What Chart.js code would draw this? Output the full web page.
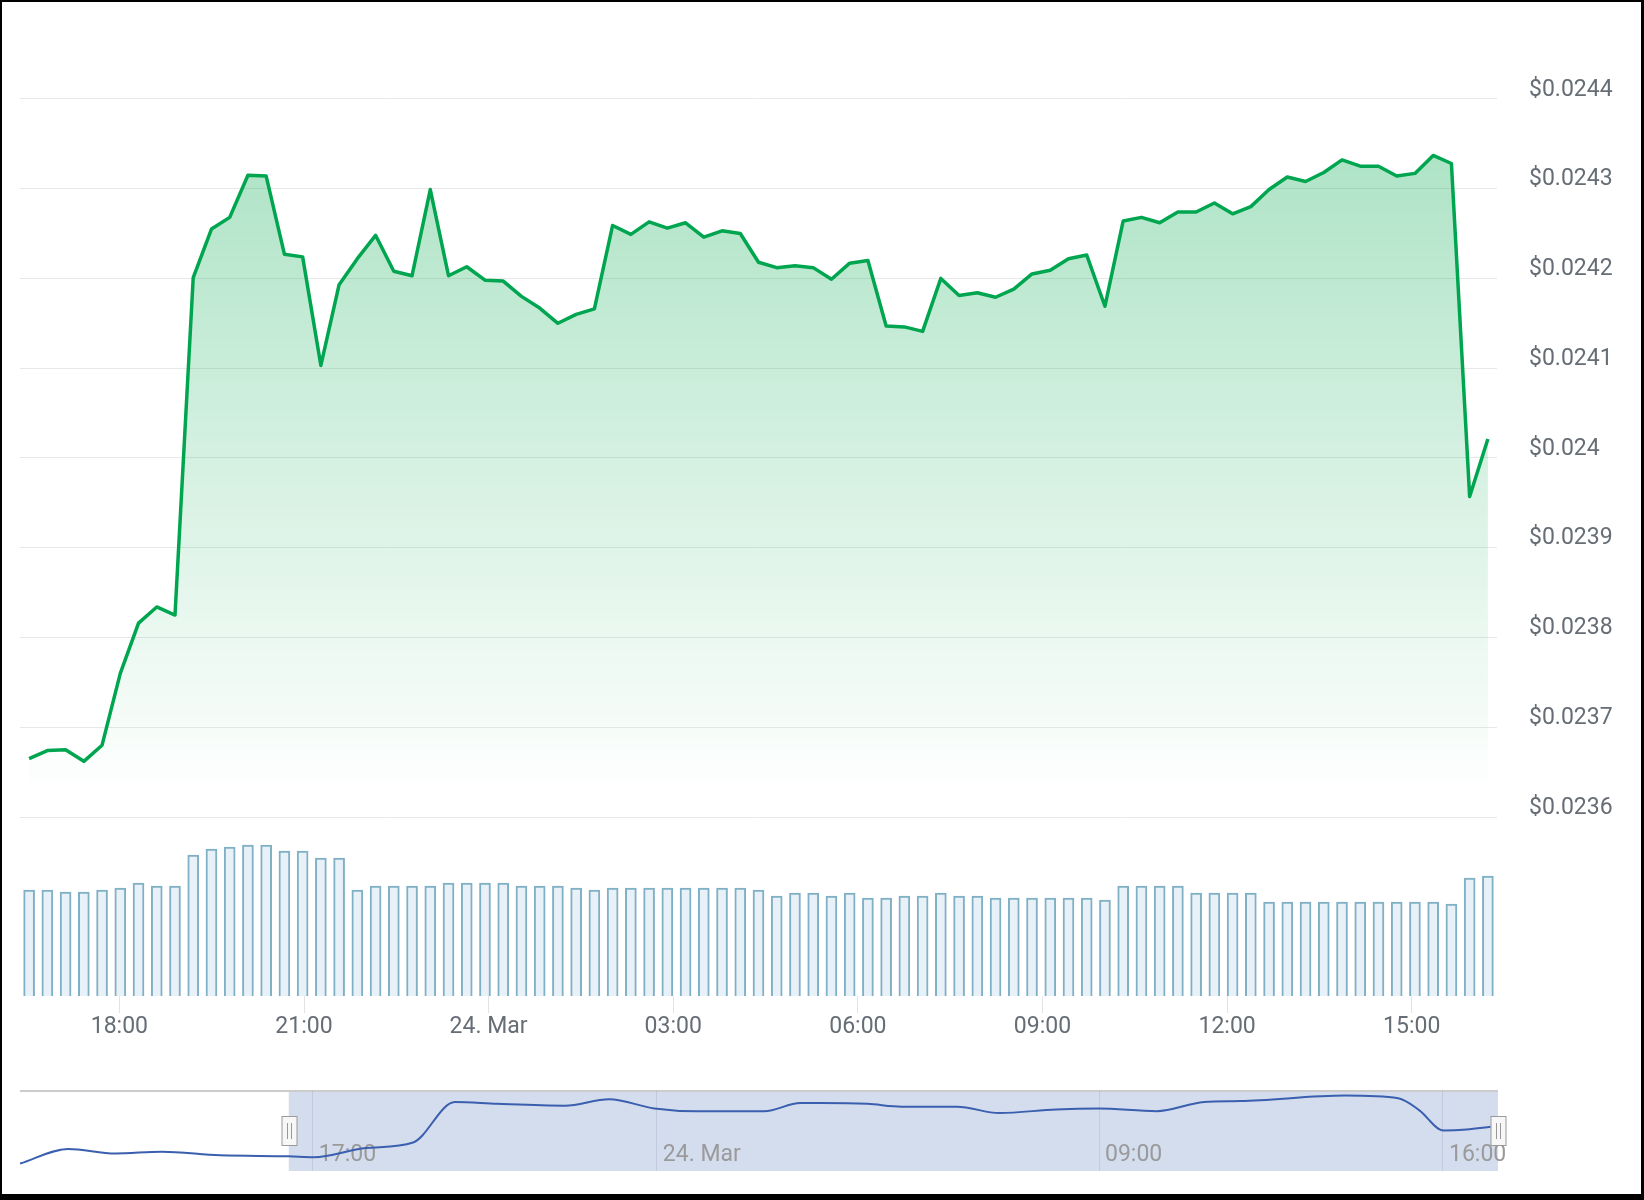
<!DOCTYPE html>
<html>
<head>
<meta charset="utf-8">
<script src="https://cdn.jsdelivr.net/npm/chart.js@4.4.1/dist/chart.umd.min.js"></script>
<style>
  body { margin: 0; background: #fff; }
  #page { position: relative; width: 1644px; height: 1200px; overflow: hidden; background: #fff; }
  #main { position: absolute; left: 0; top: 0; }
  #nav { position: absolute; left: 0; top: 1080px; }
  #frame { position: absolute; left: 0; top: 0; width: 1644px; height: 1200px; box-sizing: border-box;
           border-style: solid; border-color: #000; border-width: 2px 3px 6px 2px; pointer-events: none; }
</style>
</head>
<body>
<div id="page">
  <canvas id="main" width="1644" height="1060"></canvas>
  <canvas id="nav" width="1644" height="112"></canvas>
  <div id="frame"></div>
</div>
<script>
// price every ~18 min, from 23 Mar 16:32
const prices = [
  0.023665, 0.023674, 0.023675, 0.023662, 0.023680, 0.023760, 0.023816, 0.023834, 0.023825, 0.024201,
  0.024255, 0.024268, 0.024315, 0.024314, 0.024227, 0.024224, 0.024103, 0.024193, 0.024222, 0.024248,
  0.024208, 0.024203, 0.024299, 0.024203, 0.024213, 0.024198, 0.024197, 0.024180, 0.024167, 0.024150,
  0.024160, 0.024166, 0.024259, 0.024249, 0.024263, 0.024256, 0.024262, 0.024246, 0.024253, 0.024250,
  0.024218, 0.024212, 0.024214, 0.024212, 0.024199, 0.024217, 0.024220, 0.024147, 0.024146, 0.024141,
  0.024200, 0.024181, 0.024184, 0.024179, 0.024188, 0.024205, 0.024209, 0.024222, 0.024226, 0.024169,
  0.024264, 0.024268, 0.024262, 0.024274, 0.024274, 0.024284, 0.024272, 0.024280, 0.024299, 0.024313,
  0.024308, 0.024318, 0.024332, 0.024325, 0.024325, 0.024314, 0.024317, 0.024337, 0.024328, 0.023957,
  0.024021
];
// volume (relative units)
const volumes = [
  106, 106, 104, 104, 106, 108, 113, 110, 110, 141,
  147, 149, 151, 151, 145, 145, 138, 138, 106, 110,
  110, 110, 110, 113, 113, 113, 113, 110, 110, 110,
  108, 106, 108, 108, 108, 108, 108, 108, 108, 108,
  106, 100, 103, 103, 100, 103, 98, 98, 100, 100,
  103, 100, 100, 98, 98, 98, 98, 98, 98, 96,
  110, 110, 110, 110, 103, 103, 103, 103, 94, 94,
  94, 94, 94, 94, 94, 94, 94, 94, 92, 118,
  120
];
const startMinute = 992;          // minutes from 23 Mar 00:00
const stepMinutes = 1440 / 81;
const priceTicks = [0.0236, 0.0237, 0.0238, 0.0239, 0.0240, 0.0241, 0.0242, 0.0243, 0.0244];
const timeTicks = [1080, 1260, 1440, 1620, 1800, 1980, 2160, 2340];
const timeTickLabels = ['18:00', '21:00', '24. Mar', '03:00', '06:00', '09:00', '12:00', '15:00'];

// navigator (hours from 23 Mar 00:00)
const navHours = [11.04, 12.02, 12.98, 13.93, 15.11, 16.51, 17.02, 18.08, 19.04, 19.89, 20.75, 22.13,
  23.03, 23.95, 24.80, 26.19, 26.92, 27.33, 28.29, 28.98, 30.11, 30.97, 32.13, 32.99, 34.17, 35.14,
  35.88, 38.01, 39.09, 39.52, 40.01, 40.48, 40.97];
const navPrices = [0.02358, 0.02374, 0.02369, 0.02371, 0.02367, 0.02366, 0.02365, 0.02375, 0.02381,
  0.02425, 0.02423, 0.02421, 0.02428, 0.02418, 0.02415, 0.02415, 0.02424, 0.02424, 0.02423, 0.02420,
  0.02420, 0.02413, 0.02417, 0.02418, 0.02415, 0.02425, 0.02426, 0.02432, 0.02429, 0.02416, 0.02394,
  0.02395, 0.02398];
const navTicks = [17, 24, 33, 40];
const navTickLabels = ['17:00', '24. Mar', '09:00', '16:00'];
const navRange = [16.51, 41.12];

Chart.defaults.font.family = 'Roboto, sans-serif';
Chart.defaults.font.size = 23;
Chart.defaults.animation = false;

const times = prices.map((p, i) => startMinute + i * stepMinutes);

function greenFill(context) {
  const chart = context.chart;
  if (!chart.chartArea) return 'rgba(0,168,75,0.15)';
  const y = chart.scales.y;
  const g = chart.ctx.createLinearGradient(0, y.getPixelForValue(0.02435), 0, y.getPixelForValue(0.02362));
  g.addColorStop(0, 'rgba(0,168,75,0.32)');
  g.addColorStop(1, 'rgba(0,168,75,0)');
  return g;
}

new Chart(document.getElementById('main'), {
  type: 'bar',
  data: {
    datasets: [
      {
        type: 'line',
        label: 'Price',
        data: times.map((t, i) => ({ x: t, y: prices[i] })),
        yAxisID: 'y',
        borderColor: '#00a550',
        borderWidth: 3.5,
        borderJoinStyle: 'round',
        pointRadius: 0,
        tension: 0,
        fill: 'start',
        backgroundColor: greenFill,
        order: 1
      },
      {
        type: 'bar',
        label: 'Volume',
        data: times.map((t, i) => ({ x: t, y: volumes[i] })),
        yAxisID: 'yVol',
        backgroundColor: '#e9f1f8',
        borderColor: '#80b0c5',
        borderWidth: 2,
        barThickness: 11,
        order: 2
      }
    ]
  },
  options: {
    responsive: false,
    animation: false,
    layout: { padding: { left: 20, top: 54, right: 0, bottom: 0 } },
    plugins: { legend: { display: false }, tooltip: { enabled: false } },
    scales: {
      x: {
        type: 'linear',
        offset: false,
        min: startMinute - stepMinutes / 2,
        max: startMinute + (prices.length - 0.5) * stepMinutes,
        afterBuildTicks: s => { s.ticks = timeTicks.map(v => ({ value: v })); },
        afterFit: s => { s.height = 64; },
        ticks: {
          autoSkip: false, maxRotation: 0, padding: 0, color: '#666d75',
          callback: v => timeTickLabels[timeTicks.indexOf(v)]
        },
        grid: { offset: false, drawOnChartArea: false, tickLength: 17, color: '#e3e3e3' },
        border: { display: false }
      },
      y: {
        position: 'right',
        stack: 'panes',
        stackWeight: 763,
        min: 0.0236,
        max: 0.02445,
        afterBuildTicks: s => { s.ticks = priceTicks.map(v => ({ value: v })); },
        afterFit: s => { s.width = 147; },
        ticks: {
          padding: 32, labelOffset: -9, color: '#666d75',
          callback: v => '$' + parseFloat(v.toFixed(4))
        },
        grid: { color: '#e8e8e8', drawTicks: false },
        border: { display: false }
      },
      yVol: {
        position: 'right',
        stack: 'panes',
        stackWeight: 179,
        min: 0,
        max: 179,
        afterFit: s => { s.width = 147; },
        ticks: { display: false },
        grid: { display: false },
        border: { display: false }
      }
    }
  }
});

// navigator: shaded window, outline and handles
const navMask = {
  id: 'navMask',
  beforeDraw(chart) {
    const { ctx, chartArea: a, scales: { x } } = chart;
    const left = x.getPixelForValue(navRange[0]);
    const right = x.getPixelForValue(navRange[1]);
    ctx.save();
    ctx.fillStyle = 'rgba(102,133,194,0.28)';
    ctx.fillRect(left, a.top, right - left, a.bottom - a.top);
    ctx.strokeStyle = '#cccccc';
    ctx.lineWidth = 2;
    ctx.beginPath();
    ctx.moveTo(a.left, a.top);
    ctx.lineTo(a.right, a.top);
    ctx.stroke();
    ctx.restore();
  },
  afterDraw(chart) {
    const { ctx, chartArea: a, scales: { x } } = chart;
    const mid = Math.round((a.top + a.bottom) / 2);
    navRange.forEach(v => {
      const px = Math.round(x.getPixelForValue(v)) + 0.5;
      ctx.save();
      ctx.fillStyle = '#f7f7f7';
      ctx.strokeStyle = '#999999';
      ctx.lineWidth = 1;
      ctx.fillRect(px - 7.5, mid - 14.5, 15, 29);
      ctx.strokeRect(px - 7.5, mid - 14.5, 15, 29);
      ctx.beginPath();
      ctx.moveTo(px - 2, mid - 8); ctx.lineTo(px - 2, mid + 8);
      ctx.moveTo(px + 2, mid - 8); ctx.lineTo(px + 2, mid + 8);
      ctx.stroke();
      ctx.restore();
    });
  }
};

new Chart(document.getElementById('nav'), {
  type: 'line',
  data: {
    datasets: [{
      data: navHours.map((h, i) => ({ x: h, y: navPrices[i] })),
      borderColor: '#3a5fae',
      borderWidth: 2,
      pointRadius: 0,
      cubicInterpolationMode: 'monotone',
      fill: false
    }]
  },
  options: {
    responsive: false,
    animation: false,
    layout: { padding: { left: 20, top: 11, right: 146, bottom: 0 } },
    plugins: { legend: { display: false }, tooltip: { enabled: false } },
    scales: {
      x: {
        type: 'linear',
        min: 11.04,
        max: 41.12,
        afterBuildTicks: s => { s.ticks = navTicks.map(v => ({ value: v })); },
        afterFit: s => { s.height = 21; },
        ticks: {
          mirror: true, align: 'start', labelOffset: 6, padding: 2,
          autoSkip: false, maxRotation: 0, color: '#9a9a9a',
          callback: v => navTickLabels[navTicks.indexOf(v)]
        },
        grid: { color: 'rgba(60,70,100,0.12)', drawTicks: false },
        border: { display: false }
      },
      y: { display: false, min: 0.0235, max: 0.02437 }
    }
  },
  plugins: [navMask]
});
</script>
</body>
</html>
